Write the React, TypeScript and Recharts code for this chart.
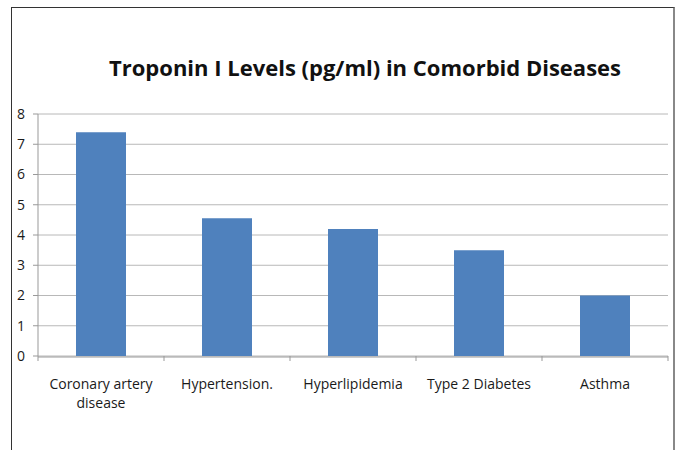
import React from "react";
import { BarChart, Bar, XAxis, YAxis, CartesianGrid, Text } from "recharts";

const diseases = ["Coronary artery disease", "Hypertension.", "Hyperlipidemia", "Type 2 Diabetes", "Asthma"];
const troponin = [7.4, 4.55, 4.2, 3.5, 2.0];
const yTicks = [0, 1, 2, 3, 4, 5, 6, 7, 8];
const edgeTicks = [0, 1, 2, 3, 4, 5];

const data = diseases.map((name, i) => ({ name, edge: i + 0.5, value: troponin[i] }));

const FONT = "'Open Sans', 'Noto Sans', sans-serif";

function CategoryTick({ x, y, payload }: { x?: number; y?: number; payload?: { value: string } }) {
  return (
    <Text
      x={x}
      y={y}
      width={120}
      textAnchor="middle"
      verticalAnchor="start"
      fill="#1a1a1a"
      fontSize={14}
      fontFamily={FONT}
      lineHeight={19}
    >
      {payload?.value ?? ""}
    </Text>
  );
}

const NoLabel = () => <g />;

export default function App() {
  return (
    <div style={{ position: "absolute", left: 0, top: 0, width: 678, height: 450, background: "#fff", overflow: "hidden" }}>
      <div
        style={{
          position: "absolute",
          left: 11,
          top: 7,
          width: 661,
          height: 470,
          borderLeft: "1px solid #333",
          borderTop: "1px solid #333",
          borderRight: "2px solid #888",
        }}
      />
      <div
        style={{
          position: "absolute",
          left: 0,
          top: 52,
          width: 730,
          textAlign: "center",
          fontFamily: FONT,
          fontWeight: 700,
          fontSize: 22,
          color: "#111",
          whiteSpace: "nowrap",
        }}
      >
        Troponin I Levels (pg/ml) in Comorbid Diseases
      </div>
      <div style={{ position: "absolute", left: 0, top: 0 }}>
        <BarChart width={678} height={450} data={data} margin={{ top: 114, right: 10, bottom: 35, left: 0 }}>
          <CartesianGrid horizontal vertical={false} stroke="#b8b8b8" xAxisId="b" />
          <XAxis
            xAxisId="a"
            dataKey="edge"
            type="number"
            domain={[0, 5]}
            ticks={edgeTicks}
            tick={<NoLabel />}
            axisLine={false}
            tickLine={{ stroke: "#999" }}
            tickSize={5}
            height={1}
          />
          <XAxis
            xAxisId="b"
            dataKey="name"
            type="category"
            axisLine={{ stroke: "#999" }}
            tickLine={false}
            tick={<CategoryTick />}
            tickMargin={16}
            height={58}
            interval={0}
          />
          <YAxis
            domain={[0, 8]}
            ticks={yTicks}
            interval={0}
            width={38}
            axisLine={{ stroke: "#999" }}
            tickLine={{ stroke: "#999" }}
            tickSize={5}
            tickMargin={8}
            tick={{ fill: "#1a1a1a", fontSize: 14, fontFamily: FONT }}
          />
          <Bar xAxisId="b" dataKey="value" fill="#4f81bd" barSize={50} isAnimationActive={false} />
        </BarChart>
      </div>
    </div>
  );
}
